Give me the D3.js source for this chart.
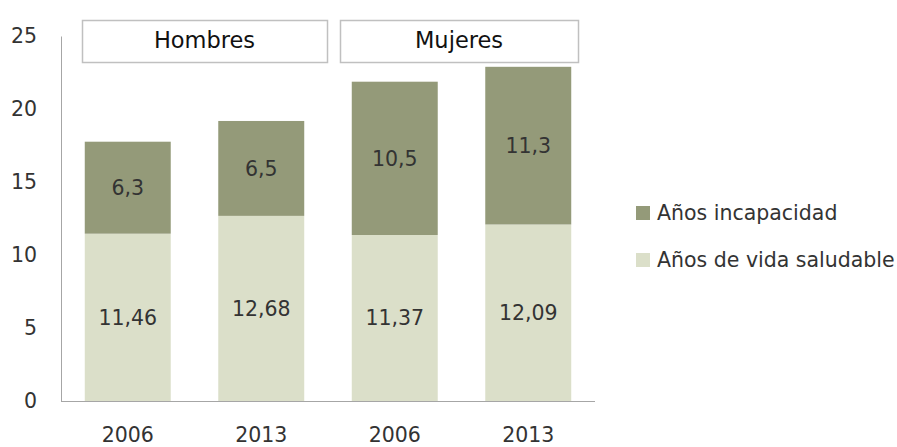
<!DOCTYPE html>
<html>
<head>
<meta charset="utf-8">
<script src="https://cdn.jsdelivr.net/npm/d3@7"></script>
<style>
  body { margin: 0; background: #fff; }
  svg { font-family: "DejaVu Sans", Verdana, sans-serif; }
</style>
</head>
<body>
<svg id="chart" width="897" height="447"></svg>
<script>
// data (last dark bar is drawn shorter than its 11,3 label)
var years = ["2006", "2013", "2006", "2013"];
var saludable = [11.46, 12.68, 11.37, 12.09];
var incapacidad = [6.3, 6.5, 10.5, 10.8];
var saludableLabels = ["11,46", "12,68", "11,37", "12,09"];
var incapacidadLabels = ["6,3", "6,5", "10,5", "11,3"];
var groups = ["Hombres", "Mujeres"];
var seriesNames = ["Años incapacidad", "Años de vida saludable"];
var yTicks = [0, 5, 10, 15, 20, 25];

var colors = { incap: "#949a79", salud: "#dbdfc9" };
var textColor = "#333";
var fs = 20.5;

var svg = d3.select("#chart");

var x = d3.scaleBand()
  .domain(d3.range(years.length))
  .range([61, 595])
  .paddingInner(0.356)
  .paddingOuter(0.178);

var y = d3.scaleLinear().domain([0, 25]).range([401, 36]);

// y axis
var yAxis = svg.append("g")
  .attr("transform", "translate(61,0)")
  .call(d3.axisLeft(y).tickValues(yTicks).tickSize(0).tickPadding(24));
yAxis.select(".domain").attr("stroke", "#a6a6a6");
yAxis.selectAll("text")
  .attr("font-size", fs)
  .attr("fill", textColor)
  .style("font-family", "DejaVu Sans, Verdana, sans-serif");

// x axis
var xAxis = svg.append("g")
  .attr("transform", "translate(0,401)")
  .call(d3.axisBottom(x).tickSize(0).tickPadding(26).tickFormat(function(i) { return years[i]; }));
xAxis.select(".domain").attr("stroke", "#a6a6a6").attr("d", "M61,0.5H595");
xAxis.selectAll("text")
  .attr("font-size", fs)
  .attr("fill", textColor)
  .style("font-family", "DejaVu Sans, Verdana, sans-serif");

// bars
var idx = d3.range(years.length);
svg.selectAll(".salud").data(idx).enter().append("rect")
  .attr("x", function(i) { return x(i); })
  .attr("width", x.bandwidth())
  .attr("y", function(i) { return y(saludable[i]); })
  .attr("height", function(i) { return y(0) - y(saludable[i]); })
  .attr("fill", colors.salud);

svg.selectAll(".incap").data(idx).enter().append("rect")
  .attr("x", function(i) { return x(i); })
  .attr("width", x.bandwidth())
  .attr("y", function(i) { return y(saludable[i] + incapacidad[i]); })
  .attr("height", function(i) { return y(saludable[i]) - y(saludable[i] + incapacidad[i]); })
  .attr("fill", colors.incap);

// data labels
svg.selectAll(".lblS").data(idx).enter().append("text")
  .attr("x", function(i) { return x(i) + x.bandwidth() / 2; })
  .attr("y", function(i) { return y(saludable[i] / 2); })
  .attr("dy", "0.35em")
  .attr("text-anchor", "middle")
  .attr("font-size", fs)
  .attr("fill", textColor)
  .text(function(i) { return saludableLabels[i]; });

svg.selectAll(".lblI").data(idx).enter().append("text")
  .attr("x", function(i) { return x(i) + x.bandwidth() / 2; })
  .attr("y", function(i) { return y(saludable[i] + incapacidad[i] / 2); })
  .attr("dy", "0.35em")
  .attr("text-anchor", "middle")
  .attr("font-size", fs)
  .attr("fill", textColor)
  .text(function(i) { return incapacidadLabels[i]; });

// group header boxes
var boxes = [[82, 327], [340, 578]];
groups.forEach(function(g, k) {
  svg.append("rect")
    .attr("x", boxes[k][0] + 0.5)
    .attr("y", 20.5)
    .attr("width", boxes[k][1] - boxes[k][0])
    .attr("height", 42)
    .attr("fill", "#fff")
    .attr("stroke", "#c0c0c0")
    .attr("stroke-width", 1.5);
  svg.append("text")
    .attr("x", (boxes[k][0] + boxes[k][1]) / 2)
    .attr("y", 40)
    .attr("dy", "0.35em")
    .attr("text-anchor", "middle")
    .attr("font-size", 22.5)
    .attr("fill", "#111")
    .text(g);
});

// legend
var legend = svg.append("g");
[colors.incap, colors.salud].forEach(function(c, k) {
  var ly = 213 + k * 47;
  legend.append("rect")
    .attr("x", 636).attr("y", ly - 7)
    .attr("width", 14).attr("height", 14)
    .attr("fill", c);
  legend.append("text")
    .attr("x", 657).attr("y", ly)
    .attr("dy", "0.35em")
    .attr("font-size", fs)
    .attr("fill", textColor)
    .text(seriesNames[k]);
});
</script>
</body>
</html>
